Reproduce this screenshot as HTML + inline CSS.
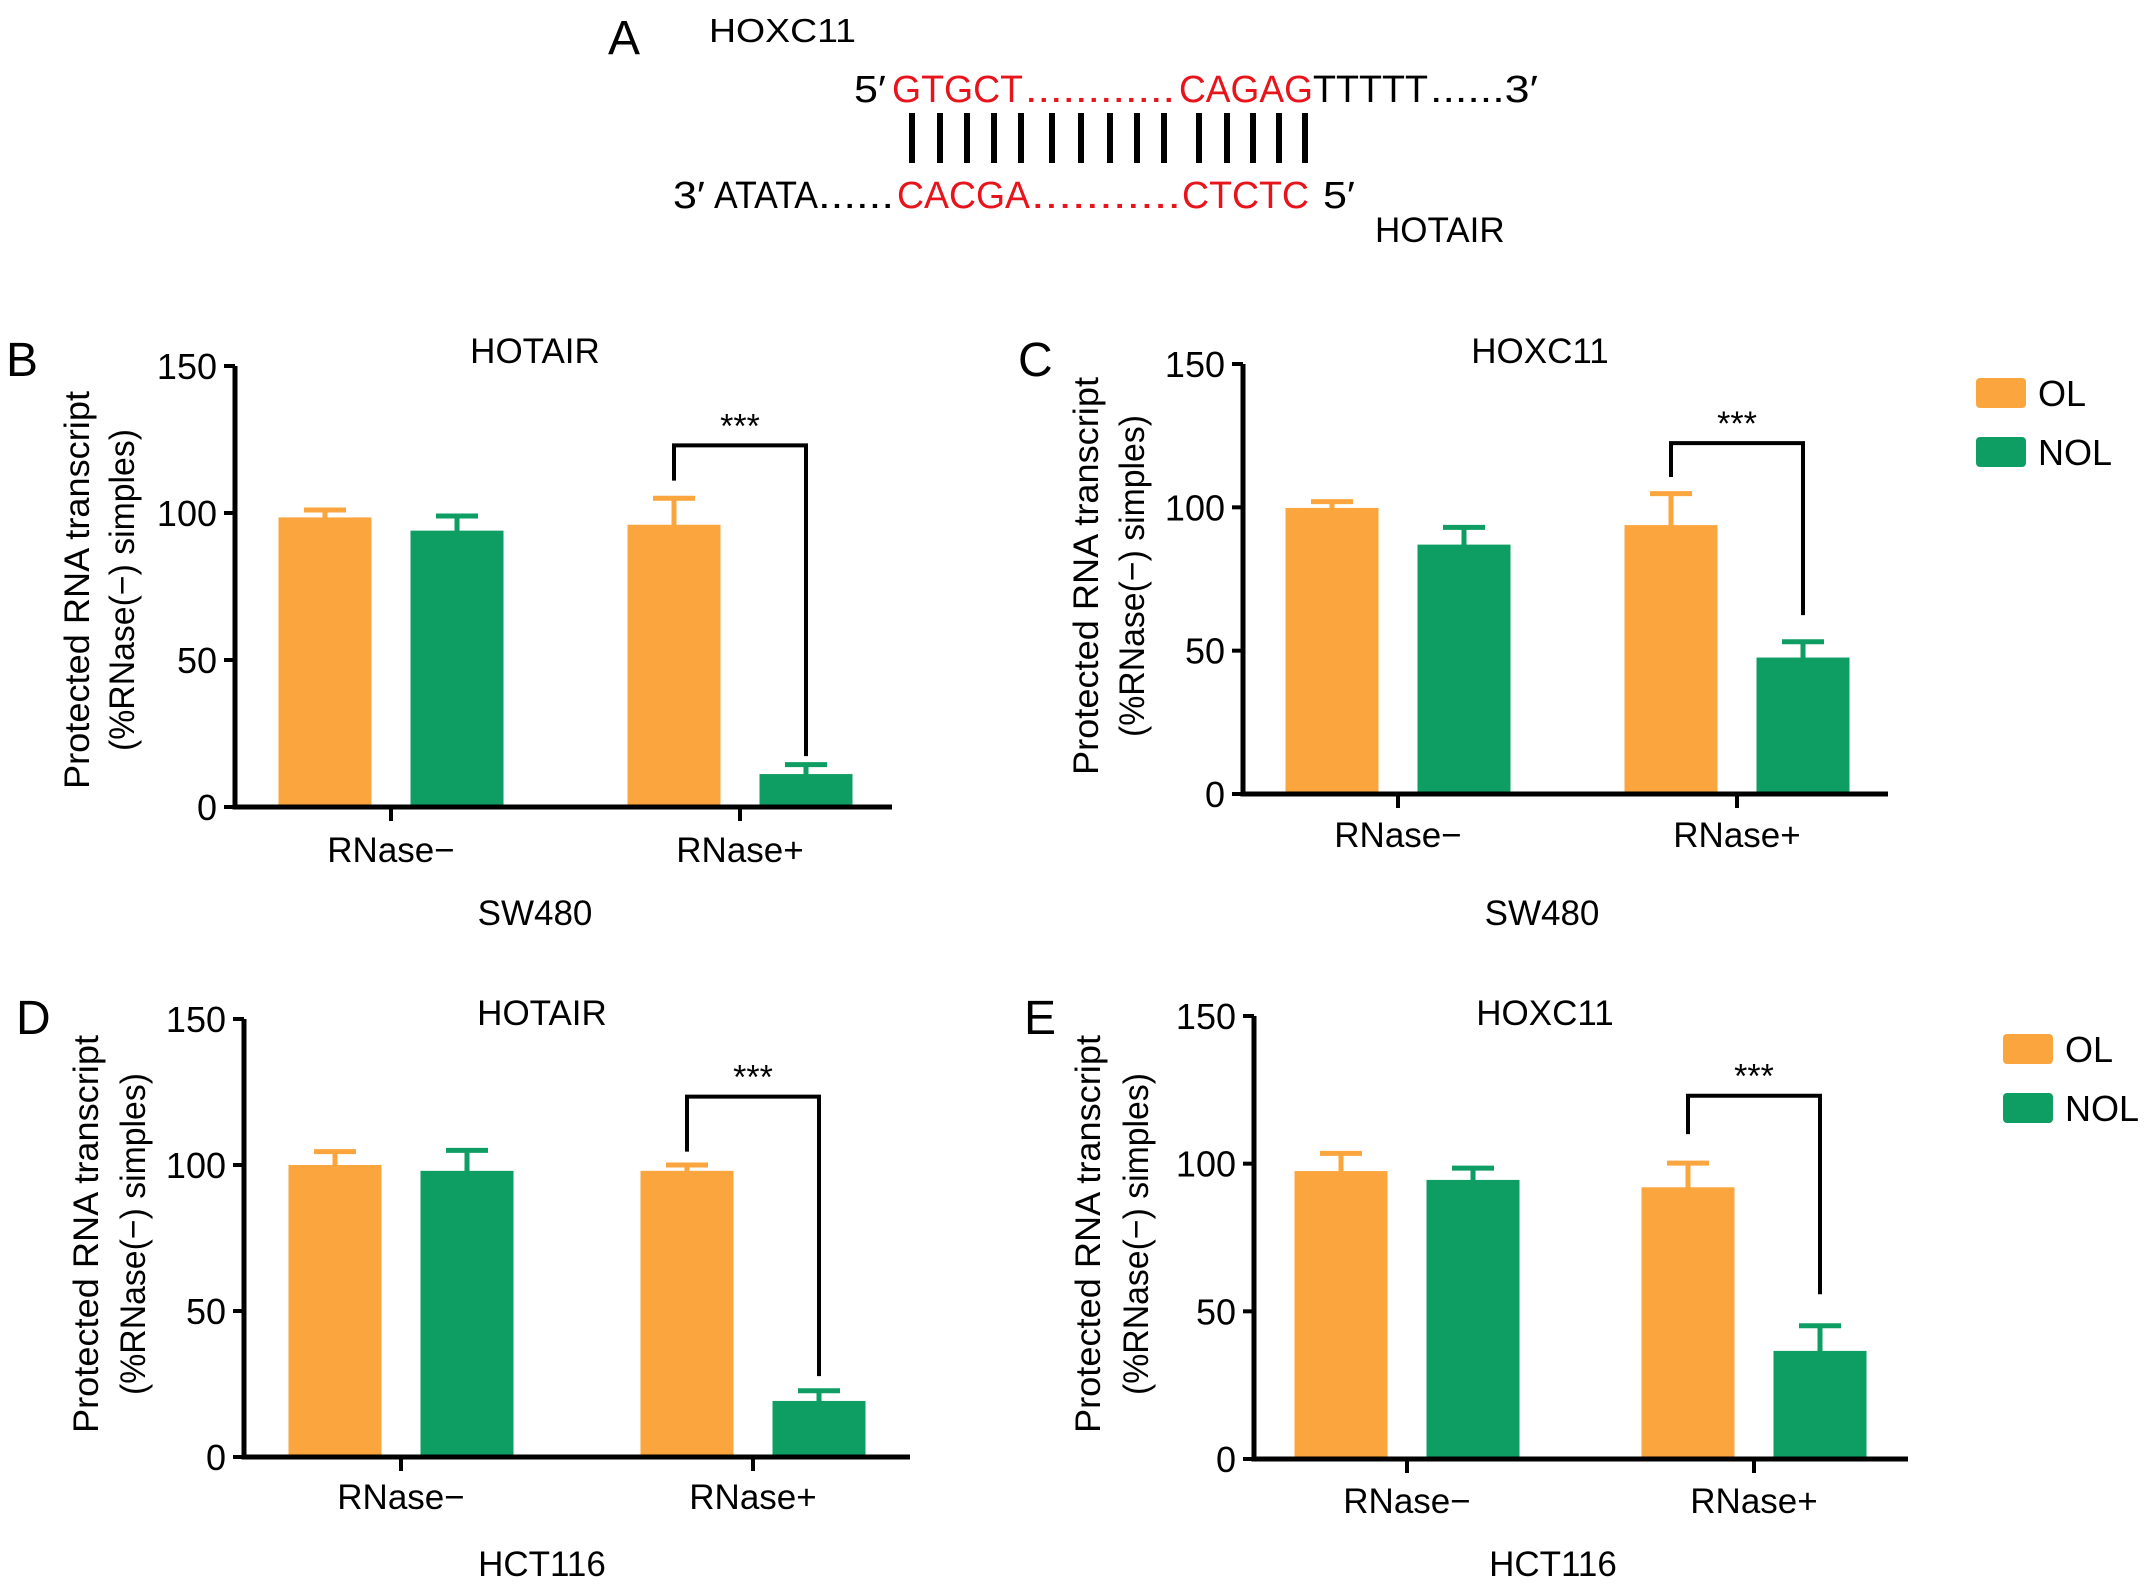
<!DOCTYPE html>
<html><head><meta charset="utf-8">
<style>
html,body{margin:0;padding:0;background:#fff;}
svg{display:block;font-family:"Liberation Sans",Arial,sans-serif;}
</style></head>
<body>
<svg id="fig" width="2150" height="1589" viewBox="0 0 2150 1589" xmlns="http://www.w3.org/2000/svg">
  <g>
    <text x="608" y="54" font-size="48">A</text>
    <text x="709" y="42" font-size="33" textLength="147" lengthAdjust="spacingAndGlyphs">HOXC11</text>
    <g font-size="38">
      <text x="854" y="102" textLength="32" lengthAdjust="spacingAndGlyphs">5′</text>
      <text x="892" y="102" fill="#e8141c" textLength="131" lengthAdjust="spacingAndGlyphs">GTGCT</text>
      <text x="1025" y="102" fill="#e8141c" textLength="150" lengthAdjust="spacingAndGlyphs">............</text>
      <text x="1179" y="102" fill="#e8141c" textLength="134" lengthAdjust="spacingAndGlyphs">CAGAG</text>
      <text x="1313" y="102" textLength="115" lengthAdjust="spacingAndGlyphs">TTTTT</text>
      <text x="1430" y="102" textLength="108" lengthAdjust="spacingAndGlyphs">......3′</text>
    </g>
    <g id="pairs" stroke="#000" stroke-width="6"></g>
    <g font-size="38">
      <text x="673" y="208" textLength="32" lengthAdjust="spacingAndGlyphs">3′</text>
      <text x="714" y="208" textLength="104" lengthAdjust="spacingAndGlyphs">ATATA</text>
      <text x="818" y="208" textLength="76" lengthAdjust="spacingAndGlyphs">......</text>
      <text x="897" y="208" fill="#e8141c" textLength="133" lengthAdjust="spacingAndGlyphs">CACGA</text>
      <text x="1031" y="208" fill="#e8141c" textLength="150" lengthAdjust="spacingAndGlyphs">...........</text>
      <text x="1182" y="208" fill="#e8141c" textLength="127" lengthAdjust="spacingAndGlyphs">CTCTC</text>
      <text x="1323" y="208" textLength="32" lengthAdjust="spacingAndGlyphs">5′</text>
    </g>
    <text x="1375" y="242" font-size="35">HOTAIR</text>
  </g>
  <g id="charts"></g>
</svg>
<script>
// ---- data ----
const categories = ["RNase\u2212", "RNase+"];
const seriesNames = ["OL", "NOL"];
const yTicks = [0, 50, 100, 150];
const pairLineX = [912,940,967,994,1021,1052,1081,1110,1137,1164,1199,1227,1253,1279,1305];

const B_OL = [98.5, 96];   const B_OL_err = [2.5, 9];
const B_NOL = [94, 11.2];  const B_NOL_err = [5, 3.2];
const B_bracket = [123, 111, 17.3];

const C_OL = [99.8, 93.8]; const C_OL_err = [2.2, 11];
const C_NOL = [87, 47.6];  const C_NOL_err = [6, 5.5];
const C_bracket = [122.4, 110.6, 62.4];

const D_OL = [100, 98];    const D_OL_err = [4.6, 2];
const D_NOL = [98, 19.2];  const D_NOL_err = [7, 3.5];
const D_bracket = [123.4, 104.6, 27.7];

const E_OL = [97.5, 92];   const E_OL_err = [6, 8.2];
const E_NOL = [94.5, 36.6];const E_NOL_err = [4, 8.5];
const E_bracket = [123, 110, 55.8];

const NS = "http://www.w3.org/2000/svg";
function mk(tag, attrs, parent) {
  const e = document.createElementNS(NS, tag);
  for (const k in attrs) e.setAttribute(k, attrs[k]);
  parent.appendChild(e);
  return e;
}

const pg = document.getElementById('pairs');
pairLineX.forEach(x => {
  const l = mk('line', {x1: x, x2: x, y1: 113, y2: 163}, pg);
  
  
});

const ORANGE = "#FBA53E", GREEN = "#0E9E63";

const panels = [
  {id:'b', letter:'B', lx:6, ly:376, title:'HOTAIR', ax:235, y0:807, yTop:366, xEnd:892, ticks:[391,740],
   ol:B_OL, olErr:B_OL_err, nol:B_NOL, nolErr:B_NOL_err, br:B_bracket, cell:'SW480', tx:535, ty:363,
   ytx:[77,122], yty:590, xly:862, cly:925, clx:535, legend:null},
  {id:'c', letter:'C', lx:1018, ly:376, title:'HOXC11', ax:1243, y0:794, yTop:364, xEnd:1888, ticks:[1398,1737],
   ol:C_OL, olErr:C_OL_err, nol:C_NOL, nolErr:C_NOL_err, br:C_bracket, cell:'SW480', tx:1540, ty:363,
   ytx:[1086,1132], yty:576, xly:847, cly:925, clx:1542, legend:{x:1976, y1:378, y2:437}},
  {id:'d', letter:'D', lx:16, ly:1034, title:'HOTAIR', ax:244, y0:1457, yTop:1019, xEnd:910, ticks:[401,753],
   ol:D_OL, olErr:D_OL_err, nol:D_NOL, nolErr:D_NOL_err, br:D_bracket, cell:'HCT116', tx:542, ty:1025,
   ytx:[86,133], yty:1234, xly:1509, cly:1576, clx:542, legend:null},
  {id:'e', letter:'E', lx:1024, ly:1034, title:'HOXC11', ax:1254, y0:1459, yTop:1016, xEnd:1908, ticks:[1407,1754],
   ol:E_OL, olErr:E_OL_err, nol:E_NOL, nolErr:E_NOL_err, br:E_bracket, cell:'HCT116', tx:1545, ty:1025,
   ytx:[1088,1136], yty:1234, xly:1513, cly:1576, clx:1553, legend:{x:2003, y1:1034, y2:1093}}
];

const charts = document.getElementById('charts');
panels.forEach(p => {
  const g = mk('g', {}, charts);
  
  
  const yS = v => p.y0 - (v / 150) * (p.y0 - p.yTop);
  const off = 66, bw = 93, cap = 21;

  let t = mk('text', {x:p.lx, y:p.ly, 'font-size':48}, g); t.textContent = p.letter;
   
  t = mk('text', {x:p.tx, y:p.ty, 'font-size':35, 'text-anchor':'middle'}, g); t.textContent = p.title;
   

  [[p.ol, p.olErr, -off, ORANGE, 'ol'], [p.nol, p.nolErr, off, GREEN, 'nol']].forEach(s => {
    s[0].forEach((v, i) => {
      const cx = p.ticks[i] + s[2];
      const r = mk('rect', {x:cx - bw/2, y:yS(v), width:bw, height:p.y0 - yS(v), fill:s[3]}, g);
      
      
      const top = yS(v + s[1][i]);
      const e = mk('path', {d:`M${cx} ${yS(v)+2}V${top}M${cx-cap} ${top}H${cx+cap}`, stroke:s[3], 'stroke-width':5, fill:'none'}, g);
      
      
    });
  });

  const ax = mk('path', {d:`M${p.ax} ${yS(150)}V${p.y0}H${p.xEnd}`, stroke:'#000', 'stroke-width':5, fill:'none'}, g);
   
  yTicks.forEach(v => {
    const tk = mk('line', {x1:p.ax - 11, x2:p.ax, y1:yS(v), y2:yS(v), stroke:'#000', 'stroke-width':4}, g);
     
    const tl = mk('text', {x:p.ax - 18, y:yS(v) + 13, 'font-size':36, 'text-anchor':'end'}, g);
    tl.textContent = v;
     
  });
  categories.forEach((c, i) => {
    const tk = mk('line', {x1:p.ticks[i], x2:p.ticks[i], y1:p.y0, y2:p.y0 + 14, stroke:'#000', 'stroke-width':4}, g);
     
    const tl = mk('text', {x:p.ticks[i], y:p.xly, 'font-size':35, 'text-anchor':'middle'}, g);
    tl.textContent = c;
     
  });
  t = mk('text', {x:p.clx, y:p.cly, 'font-size':35, 'text-anchor':'middle'}, g); t.textContent = p.cell;
   

  const l1 = mk('text', {x:0, y:0, 'font-size':35, 'text-anchor':'middle', textLength:398, lengthAdjust:'spacingAndGlyphs',
    transform:`translate(${p.ytx[0]+12},${p.yty}) rotate(-90)`}, g);
  l1.textContent = 'Protected RNA transcript';
   
  const l2 = mk('text', {x:0, y:0, 'font-size':35, 'text-anchor':'middle', textLength:322, lengthAdjust:'spacingAndGlyphs',
    transform:`translate(${p.ytx[1]+12},${p.yty}) rotate(-90)`}, g);
  l2.textContent = '(%RNase(\u2212) simples)';
   

  const xl = p.ticks[1] - off, xr = p.ticks[1] + off;
  const br = mk('path', {d:`M${xl} ${yS(p.br[1])}V${yS(p.br[0])}H${xr}V${yS(p.br[2])}`, stroke:'#000', 'stroke-width':4, fill:'none'}, g);
   
  const st = mk('text', {x:(xl + xr)/2, y:yS(p.br[0]) - 8, 'font-size':34, 'text-anchor':'middle'}, g);
  st.textContent = '***';
   

  if (p.legend) {
    [[ORANGE, p.legend.y1, seriesNames[0]], [GREEN, p.legend.y2, seriesNames[1]]].forEach(L => {
      const r = mk('rect', {x:p.legend.x, y:L[1], width:50, height:30, rx:4, fill:L[0]}, g);
       
      const tx = mk('text', {x:p.legend.x + 62, y:L[1] + 28, 'font-size':36}, g);
      tx.textContent = L[2];
       
    });
  }
});
</script>
</body></html>
